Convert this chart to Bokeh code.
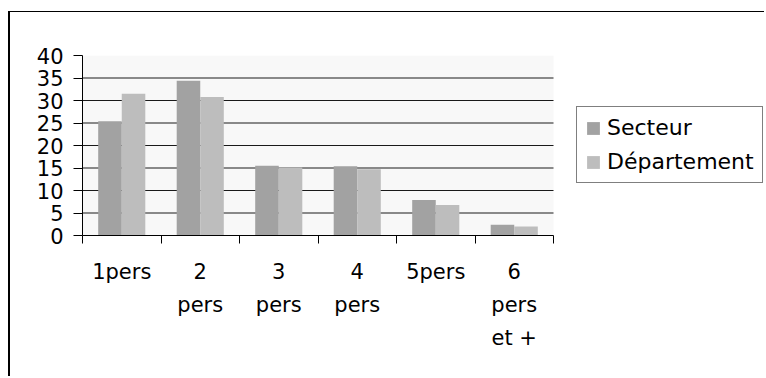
from bokeh.plotting import figure
from bokeh.models import FixedTicker, Legend, LegendItem, ColumnDataSource, BoxAnnotation
from bokeh.embed import file_html
from bokeh.resources import INLINE

categories = ["1pers", "2\npers", "3\npers", "4\npers", "5pers", "6\npers\net +"]
secteur = [25.4, 34.4, 15.5, 15.4, 7.9, 2.4]
departement = [31.5, 30.8, 15.1, 14.7, 6.8, 2.0]
y_ticks = [0, 5, 10, 15, 20, 25, 30, 35, 40]
series_names = ["Secteur", "Département"]
series_colors = ["#a2a2a2", "#bdbdbd"]

FONT = "DejaVu Sans"
n = len(categories)
centers = [i + 0.5 for i in range(n)]
bounds = [float(i) for i in range(n + 1)]

# layout (pixels)
CANVAS_W, CANVAS_H = 756, 365
LEFT, TOP, BOTTOM = 72, 43, 142
PLOT_AREA_W = 471          # width of the category area
FRAME_W = CANVAS_W - LEFT  # frame extends to the right edge so the legend is not clipped
x_end = n * FRAME_W / PLOT_AREA_W

src = ColumnDataSource(data=dict(
    xs=[c - 0.15 for c in centers],
    xd=[c + 0.15 for c in centers],
    secteur=secteur,
    departement=departement,
))

p = figure(
    x_range=(0, x_end), y_range=(y_ticks[0], y_ticks[-1]),
    width=CANVAS_W, height=CANVAS_H,
    output_backend="svg", toolbar_location=None,
    min_border_left=LEFT, min_border_right=0,
    min_border_top=TOP, min_border_bottom=BOTTOM,
)
p.margin = (11, 0, 0, 8)
p.styles = {"border-left": "2px solid black", "border-top": "1.5px solid black"}

p.background_fill_color = "white"
p.border_fill_color = "white"
p.outline_line_color = None
p.xgrid.grid_line_color = None
p.ygrid.grid_line_color = None

# plot-area background
p.add_layout(BoxAnnotation(left=0, right=n, bottom=y_ticks[0], top=y_ticks[-1],
                           fill_color="#f8f8f8", fill_alpha=1.0, line_color=None,
                           level="underlay"))

# horizontal gridlines limited to the category area
grid_y = y_ticks[1:-1]
p.segment(x0=[0] * len(grid_y), x1=[n] * len(grid_y), y0=grid_y, y1=grid_y,
          line_color="#1a1a1a", line_width=1)

r1 = p.vbar(x="xs", top="secteur", width=0.3, source=src,
            fill_color=series_colors[0], line_color=None)
r2 = p.vbar(x="xd", top="departement", width=0.3, source=src,
            fill_color=series_colors[1], line_color=None)

# x axis
xa = p.xaxis[0]
xa.bounds = (0, n)
xa.ticker = FixedTicker(ticks=centers, minor_ticks=bounds)
xa.major_label_overrides = {c: lab for c, lab in zip(centers, categories)}
xa.major_tick_out = 0
xa.major_tick_in = 0
xa.minor_tick_out = 8
xa.minor_tick_in = 0
xa.minor_tick_line_color = "black"
xa.axis_line_color = "black"
xa.major_label_standoff = 16
xa.major_label_text_font = FONT
xa.major_label_text_font_size = "21px"
xa.major_label_text_color = "black"
xa.major_label_text_line_height = 1.39

# y axis
ya = p.yaxis[0]
ya.ticker = FixedTicker(ticks=y_ticks)
ya.major_tick_out = 9
ya.major_tick_in = 0
ya.minor_tick_line_color = None
ya.axis_line_color = "black"
ya.major_tick_line_color = "black"
ya.major_label_standoff = 10
ya.major_label_text_font = FONT
ya.major_label_text_font_size = "21px"
ya.major_label_text_color = "black"

legend = Legend(
    items=[LegendItem(label=series_names[0], renderers=[r1]),
           LegendItem(label=series_names[1], renderers=[r2])],
    location=(494, 52),
    margin=0, padding=8, spacing=9,
    glyph_width=16, glyph_height=16, label_standoff=6,
    label_text_font=FONT, label_text_font_size="22px", label_text_color="black",
    border_line_color="black", border_line_width=1,
    background_fill_color="white", background_fill_alpha=1.0,
)
p.add_layout(legend)

open("out.html", "w").write(file_html(p, INLINE))
